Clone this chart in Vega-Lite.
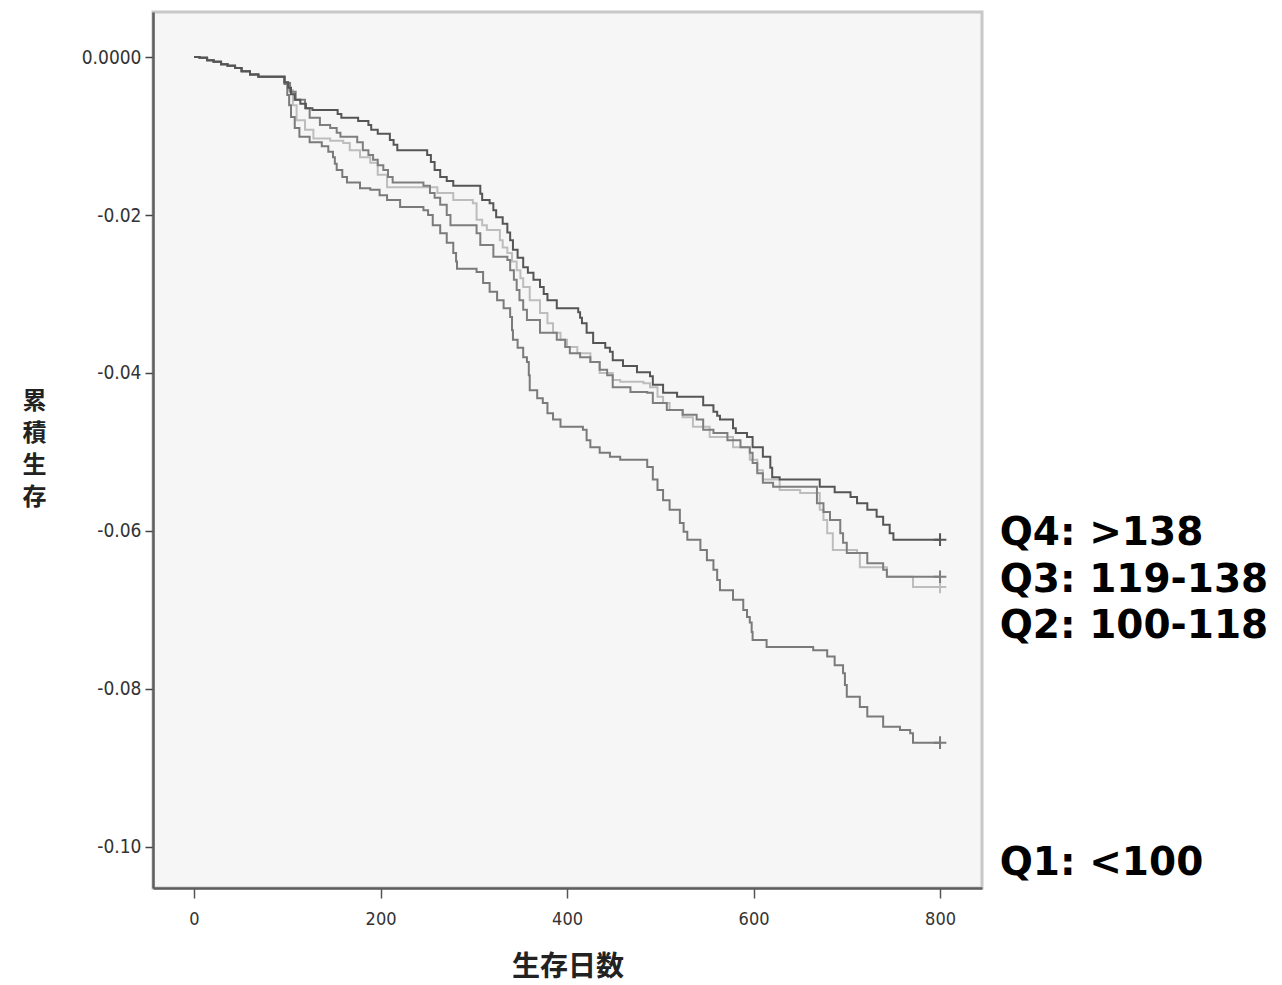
{
  "$schema": "https://vega.github.io/schema/vega-lite/v6.json",
  "width": 829,
  "height": 876,
  "autosize": {"type": "none"},
  "padding": {"left": 153, "top": 12, "right": 300, "bottom": 97},
  "background": "white",
  "config": {
    "view": {"fill": "#f6f6f6", "stroke": "#c8c8c8", "strokeWidth": 3},
    "font": "Liberation Sans"
  },
  "datasets": {
    "curves": [
      {"g": "Q2", "d": 0, "s": 0}, {"g": "Q2", "d": 6, "s": -0.0001}, {"g": "Q2", "d": 14, "s": -0.0004}, {"g": "Q2", "d": 21, "s": -0.0006}, {"g": "Q2", "d": 29, "s": -0.0009}, {"g": "Q2", "d": 36, "s": -0.0011}, {"g": "Q2", "d": 44, "s": -0.0014}, {"g": "Q2", "d": 51, "s": -0.0018}, {"g": "Q2", "d": 60, "s": -0.0022}, {"g": "Q2", "d": 69, "s": -0.0025},
      {"g": "Q2", "d": 97, "s": -0.0032}, {"g": "Q2", "d": 101, "s": -0.0042}, {"g": "Q2", "d": 106, "s": -0.0061}, {"g": "Q2", "d": 110, "s": -0.0080}, {"g": "Q2", "d": 119, "s": -0.0092}, {"g": "Q2", "d": 128, "s": -0.0103}, {"g": "Q2", "d": 146, "s": -0.0106}, {"g": "Q2", "d": 160, "s": -0.0109}, {"g": "Q2", "d": 167, "s": -0.0118}, {"g": "Q2", "d": 178, "s": -0.0127}, {"g": "Q2", "d": 189, "s": -0.0134}, {"g": "Q2", "d": 197, "s": -0.0149}, {"g": "Q2", "d": 207, "s": -0.0165}, {"g": "Q2", "d": 261, "s": -0.0172}, {"g": "Q2", "d": 278, "s": -0.0181}, {"g": "Q2", "d": 299, "s": -0.0185}, {"g": "Q2", "d": 303, "s": -0.0206}, {"g": "Q2", "d": 309, "s": -0.0213}, {"g": "Q2", "d": 314, "s": -0.0219}, {"g": "Q2", "d": 328, "s": -0.0232}, {"g": "Q2", "d": 331, "s": -0.0241}, {"g": "Q2", "d": 336, "s": -0.0248}, {"g": "Q2", "d": 341, "s": -0.0259}, {"g": "Q2", "d": 346, "s": -0.0270}, {"g": "Q2", "d": 350, "s": -0.0280}, {"g": "Q2", "d": 353, "s": -0.0291}, {"g": "Q2", "d": 360, "s": -0.0308}, {"g": "Q2", "d": 371, "s": -0.0324}, {"g": "Q2", "d": 379, "s": -0.0337}, {"g": "Q2", "d": 385, "s": -0.0349}, {"g": "Q2", "d": 393, "s": -0.0358}, {"g": "Q2", "d": 400, "s": -0.0367}, {"g": "Q2", "d": 411, "s": -0.0375}, {"g": "Q2", "d": 425, "s": -0.0386}, {"g": "Q2", "d": 435, "s": -0.0400}, {"g": "Q2", "d": 449, "s": -0.0409}, {"g": "Q2", "d": 457, "s": -0.0411}, {"g": "Q2", "d": 482, "s": -0.0413}, {"g": "Q2", "d": 489, "s": -0.0418}, {"g": "Q2", "d": 497, "s": -0.0430}, {"g": "Q2", "d": 503, "s": -0.0438}, {"g": "Q2", "d": 510, "s": -0.0447}, {"g": "Q2", "d": 524, "s": -0.0456}, {"g": "Q2", "d": 535, "s": -0.0468}, {"g": "Q2", "d": 553, "s": -0.0481}, {"g": "Q2", "d": 578, "s": -0.0494}, {"g": "Q2", "d": 596, "s": -0.0510}, {"g": "Q2", "d": 604, "s": -0.0523}, {"g": "Q2", "d": 610, "s": -0.0535}, {"g": "Q2", "d": 628, "s": -0.0548}, {"g": "Q2", "d": 650, "s": -0.0552}, {"g": "Q2", "d": 671, "s": -0.0573}, {"g": "Q2", "d": 675, "s": -0.0586}, {"g": "Q2", "d": 679, "s": -0.0603}, {"g": "Q2", "d": 685, "s": -0.0624}, {"g": "Q2", "d": 711, "s": -0.0628}, {"g": "Q2", "d": 714, "s": -0.0646}, {"g": "Q2", "d": 743, "s": -0.0658}, {"g": "Q2", "d": 771, "s": -0.0671}, {"g": "Q2", "d": 800, "s": -0.0671},

      {"g": "Q3", "d": 0, "s": 0}, {"g": "Q3", "d": 6, "s": -0.0001}, {"g": "Q3", "d": 14, "s": -0.0004}, {"g": "Q3", "d": 21, "s": -0.0006}, {"g": "Q3", "d": 29, "s": -0.0009}, {"g": "Q3", "d": 36, "s": -0.0011}, {"g": "Q3", "d": 44, "s": -0.0014}, {"g": "Q3", "d": 51, "s": -0.0018}, {"g": "Q3", "d": 60, "s": -0.0022}, {"g": "Q3", "d": 69, "s": -0.0025},
      {"g": "Q3", "d": 97, "s": -0.0033}, {"g": "Q3", "d": 103, "s": -0.0044}, {"g": "Q3", "d": 109, "s": -0.0054}, {"g": "Q3", "d": 119, "s": -0.0065}, {"g": "Q3", "d": 124, "s": -0.0077}, {"g": "Q3", "d": 135, "s": -0.0086}, {"g": "Q3", "d": 146, "s": -0.0090}, {"g": "Q3", "d": 153, "s": -0.0096}, {"g": "Q3", "d": 157, "s": -0.0101}, {"g": "Q3", "d": 175, "s": -0.0108}, {"g": "Q3", "d": 181, "s": -0.0118}, {"g": "Q3", "d": 187, "s": -0.0124}, {"g": "Q3", "d": 192, "s": -0.0130}, {"g": "Q3", "d": 197, "s": -0.0137}, {"g": "Q3", "d": 203, "s": -0.0143}, {"g": "Q3", "d": 208, "s": -0.0152}, {"g": "Q3", "d": 213, "s": -0.0159}, {"g": "Q3", "d": 246, "s": -0.0163}, {"g": "Q3", "d": 253, "s": -0.0172}, {"g": "Q3", "d": 258, "s": -0.0178}, {"g": "Q3", "d": 264, "s": -0.0187}, {"g": "Q3", "d": 271, "s": -0.0200}, {"g": "Q3", "d": 275, "s": -0.0213}, {"g": "Q3", "d": 303, "s": -0.0223}, {"g": "Q3", "d": 307, "s": -0.0238}, {"g": "Q3", "d": 321, "s": -0.0253}, {"g": "Q3", "d": 336, "s": -0.0257}, {"g": "Q3", "d": 339, "s": -0.0270}, {"g": "Q3", "d": 343, "s": -0.0282}, {"g": "Q3", "d": 346, "s": -0.0295}, {"g": "Q3", "d": 349, "s": -0.0308}, {"g": "Q3", "d": 353, "s": -0.0320}, {"g": "Q3", "d": 357, "s": -0.0333}, {"g": "Q3", "d": 371, "s": -0.0349}, {"g": "Q3", "d": 389, "s": -0.0358}, {"g": "Q3", "d": 398, "s": -0.0367}, {"g": "Q3", "d": 403, "s": -0.0375}, {"g": "Q3", "d": 414, "s": -0.0380}, {"g": "Q3", "d": 425, "s": -0.0386}, {"g": "Q3", "d": 435, "s": -0.0396}, {"g": "Q3", "d": 443, "s": -0.0403}, {"g": "Q3", "d": 449, "s": -0.0418}, {"g": "Q3", "d": 468, "s": -0.0424}, {"g": "Q3", "d": 486, "s": -0.0425}, {"g": "Q3", "d": 492, "s": -0.0438}, {"g": "Q3", "d": 507, "s": -0.0447}, {"g": "Q3", "d": 524, "s": -0.0453}, {"g": "Q3", "d": 539, "s": -0.0459}, {"g": "Q3", "d": 546, "s": -0.0472}, {"g": "Q3", "d": 557, "s": -0.0476}, {"g": "Q3", "d": 572, "s": -0.0485}, {"g": "Q3", "d": 586, "s": -0.0494}, {"g": "Q3", "d": 596, "s": -0.0501}, {"g": "Q3", "d": 599, "s": -0.0514}, {"g": "Q3", "d": 604, "s": -0.0527}, {"g": "Q3", "d": 610, "s": -0.0539}, {"g": "Q3", "d": 621, "s": -0.0544}, {"g": "Q3", "d": 668, "s": -0.0565}, {"g": "Q3", "d": 675, "s": -0.0576}, {"g": "Q3", "d": 682, "s": -0.0586}, {"g": "Q3", "d": 693, "s": -0.0603}, {"g": "Q3", "d": 696, "s": -0.0615}, {"g": "Q3", "d": 700, "s": -0.0628}, {"g": "Q3", "d": 722, "s": -0.0641}, {"g": "Q3", "d": 739, "s": -0.0649}, {"g": "Q3", "d": 743, "s": -0.0658}, {"g": "Q3", "d": 800, "s": -0.0658},

      {"g": "Q1", "d": 0, "s": 0}, {"g": "Q1", "d": 6, "s": -0.0001}, {"g": "Q1", "d": 14, "s": -0.0004}, {"g": "Q1", "d": 21, "s": -0.0006}, {"g": "Q1", "d": 29, "s": -0.0009}, {"g": "Q1", "d": 36, "s": -0.0011}, {"g": "Q1", "d": 44, "s": -0.0014}, {"g": "Q1", "d": 51, "s": -0.0018}, {"g": "Q1", "d": 60, "s": -0.0022}, {"g": "Q1", "d": 69, "s": -0.0025},
      {"g": "Q1", "d": 97, "s": -0.0034}, {"g": "Q1", "d": 100, "s": -0.0048}, {"g": "Q1", "d": 102, "s": -0.0061}, {"g": "Q1", "d": 104, "s": -0.0076}, {"g": "Q1", "d": 108, "s": -0.0090}, {"g": "Q1", "d": 113, "s": -0.0101}, {"g": "Q1", "d": 124, "s": -0.0108}, {"g": "Q1", "d": 137, "s": -0.0113}, {"g": "Q1", "d": 144, "s": -0.0120}, {"g": "Q1", "d": 149, "s": -0.0127}, {"g": "Q1", "d": 151, "s": -0.0135}, {"g": "Q1", "d": 153, "s": -0.0143}, {"g": "Q1", "d": 159, "s": -0.0152}, {"g": "Q1", "d": 164, "s": -0.0159}, {"g": "Q1", "d": 178, "s": -0.0166}, {"g": "Q1", "d": 189, "s": -0.0168}, {"g": "Q1", "d": 199, "s": -0.0175}, {"g": "Q1", "d": 207, "s": -0.0181}, {"g": "Q1", "d": 221, "s": -0.0190}, {"g": "Q1", "d": 246, "s": -0.0194}, {"g": "Q1", "d": 251, "s": -0.0200}, {"g": "Q1", "d": 256, "s": -0.0213}, {"g": "Q1", "d": 264, "s": -0.0223}, {"g": "Q1", "d": 271, "s": -0.0235}, {"g": "Q1", "d": 278, "s": -0.0248}, {"g": "Q1", "d": 281, "s": -0.0259}, {"g": "Q1", "d": 282, "s": -0.0268}, {"g": "Q1", "d": 303, "s": -0.0272}, {"g": "Q1", "d": 310, "s": -0.0286}, {"g": "Q1", "d": 317, "s": -0.0297}, {"g": "Q1", "d": 325, "s": -0.0308}, {"g": "Q1", "d": 332, "s": -0.0318}, {"g": "Q1", "d": 339, "s": -0.0329}, {"g": "Q1", "d": 341, "s": -0.0346}, {"g": "Q1", "d": 342, "s": -0.0358}, {"g": "Q1", "d": 347, "s": -0.0368}, {"g": "Q1", "d": 353, "s": -0.0380}, {"g": "Q1", "d": 357, "s": -0.0386}, {"g": "Q1", "d": 359, "s": -0.0403}, {"g": "Q1", "d": 360, "s": -0.0422}, {"g": "Q1", "d": 368, "s": -0.0432}, {"g": "Q1", "d": 374, "s": -0.0438}, {"g": "Q1", "d": 379, "s": -0.0451}, {"g": "Q1", "d": 385, "s": -0.0459}, {"g": "Q1", "d": 393, "s": -0.0468}, {"g": "Q1", "d": 417, "s": -0.0472}, {"g": "Q1", "d": 421, "s": -0.0485}, {"g": "Q1", "d": 425, "s": -0.0494}, {"g": "Q1", "d": 435, "s": -0.0501}, {"g": "Q1", "d": 446, "s": -0.0506}, {"g": "Q1", "d": 457, "s": -0.0510}, {"g": "Q1", "d": 486, "s": -0.0519}, {"g": "Q1", "d": 492, "s": -0.0535}, {"g": "Q1", "d": 497, "s": -0.0548}, {"g": "Q1", "d": 503, "s": -0.0561}, {"g": "Q1", "d": 510, "s": -0.0573}, {"g": "Q1", "d": 521, "s": -0.0590}, {"g": "Q1", "d": 525, "s": -0.0601}, {"g": "Q1", "d": 529, "s": -0.0611}, {"g": "Q1", "d": 543, "s": -0.0624}, {"g": "Q1", "d": 550, "s": -0.0637}, {"g": "Q1", "d": 557, "s": -0.0649}, {"g": "Q1", "d": 561, "s": -0.0662}, {"g": "Q1", "d": 564, "s": -0.0675}, {"g": "Q1", "d": 578, "s": -0.0687}, {"g": "Q1", "d": 589, "s": -0.0700}, {"g": "Q1", "d": 593, "s": -0.0709}, {"g": "Q1", "d": 596, "s": -0.0716}, {"g": "Q1", "d": 598, "s": -0.0728}, {"g": "Q1", "d": 599, "s": -0.0738}, {"g": "Q1", "d": 614, "s": -0.0747}, {"g": "Q1", "d": 664, "s": -0.0751}, {"g": "Q1", "d": 679, "s": -0.0759}, {"g": "Q1", "d": 687, "s": -0.0770}, {"g": "Q1", "d": 696, "s": -0.0780}, {"g": "Q1", "d": 698, "s": -0.0795}, {"g": "Q1", "d": 700, "s": -0.0810}, {"g": "Q1", "d": 714, "s": -0.0823}, {"g": "Q1", "d": 722, "s": -0.0835}, {"g": "Q1", "d": 739, "s": -0.0848}, {"g": "Q1", "d": 757, "s": -0.0852}, {"g": "Q1", "d": 768, "s": -0.0856}, {"g": "Q1", "d": 771, "s": -0.0868}, {"g": "Q1", "d": 800, "s": -0.0868},

      {"g": "Q4", "d": 0, "s": 0}, {"g": "Q4", "d": 6, "s": -0.0001}, {"g": "Q4", "d": 14, "s": -0.0004}, {"g": "Q4", "d": 21, "s": -0.0006}, {"g": "Q4", "d": 29, "s": -0.0009}, {"g": "Q4", "d": 36, "s": -0.0011}, {"g": "Q4", "d": 44, "s": -0.0014}, {"g": "Q4", "d": 51, "s": -0.0018}, {"g": "Q4", "d": 60, "s": -0.0022}, {"g": "Q4", "d": 69, "s": -0.0025},
      {"g": "Q4", "d": 97, "s": -0.0032}, {"g": "Q4", "d": 101, "s": -0.0039}, {"g": "Q4", "d": 104, "s": -0.0047}, {"g": "Q4", "d": 108, "s": -0.0054}, {"g": "Q4", "d": 114, "s": -0.0059}, {"g": "Q4", "d": 120, "s": -0.0065}, {"g": "Q4", "d": 127, "s": -0.0067}, {"g": "Q4", "d": 154, "s": -0.0072}, {"g": "Q4", "d": 158, "s": -0.0077}, {"g": "Q4", "d": 176, "s": -0.0081}, {"g": "Q4", "d": 187, "s": -0.0086}, {"g": "Q4", "d": 190, "s": -0.0092}, {"g": "Q4", "d": 197, "s": -0.0097}, {"g": "Q4", "d": 210, "s": -0.0105}, {"g": "Q4", "d": 214, "s": -0.0111}, {"g": "Q4", "d": 218, "s": -0.0118}, {"g": "Q4", "d": 250, "s": -0.0124}, {"g": "Q4", "d": 254, "s": -0.0133}, {"g": "Q4", "d": 258, "s": -0.0143}, {"g": "Q4", "d": 264, "s": -0.0152}, {"g": "Q4", "d": 271, "s": -0.0157}, {"g": "Q4", "d": 278, "s": -0.0163}, {"g": "Q4", "d": 307, "s": -0.0173}, {"g": "Q4", "d": 309, "s": -0.0181}, {"g": "Q4", "d": 317, "s": -0.0185}, {"g": "Q4", "d": 321, "s": -0.0194}, {"g": "Q4", "d": 324, "s": -0.0203}, {"g": "Q4", "d": 331, "s": -0.0211}, {"g": "Q4", "d": 336, "s": -0.0222}, {"g": "Q4", "d": 339, "s": -0.0232}, {"g": "Q4", "d": 342, "s": -0.0244}, {"g": "Q4", "d": 347, "s": -0.0254}, {"g": "Q4", "d": 353, "s": -0.0266}, {"g": "Q4", "d": 358, "s": -0.0273}, {"g": "Q4", "d": 364, "s": -0.0282}, {"g": "Q4", "d": 371, "s": -0.0291}, {"g": "Q4", "d": 375, "s": -0.0300}, {"g": "Q4", "d": 379, "s": -0.0308}, {"g": "Q4", "d": 389, "s": -0.0318}, {"g": "Q4", "d": 412, "s": -0.0323}, {"g": "Q4", "d": 414, "s": -0.0330}, {"g": "Q4", "d": 416, "s": -0.0337}, {"g": "Q4", "d": 421, "s": -0.0349}, {"g": "Q4", "d": 428, "s": -0.0362}, {"g": "Q4", "d": 441, "s": -0.0368}, {"g": "Q4", "d": 446, "s": -0.0373}, {"g": "Q4", "d": 449, "s": -0.0384}, {"g": "Q4", "d": 460, "s": -0.0391}, {"g": "Q4", "d": 475, "s": -0.0399}, {"g": "Q4", "d": 489, "s": -0.0404}, {"g": "Q4", "d": 492, "s": -0.0415}, {"g": "Q4", "d": 503, "s": -0.0425}, {"g": "Q4", "d": 518, "s": -0.0430}, {"g": "Q4", "d": 546, "s": -0.0441}, {"g": "Q4", "d": 557, "s": -0.0449}, {"g": "Q4", "d": 561, "s": -0.0454}, {"g": "Q4", "d": 564, "s": -0.0459}, {"g": "Q4", "d": 578, "s": -0.0470}, {"g": "Q4", "d": 581, "s": -0.0476}, {"g": "Q4", "d": 593, "s": -0.0481}, {"g": "Q4", "d": 599, "s": -0.0494}, {"g": "Q4", "d": 610, "s": -0.0506}, {"g": "Q4", "d": 618, "s": -0.0520}, {"g": "Q4", "d": 620, "s": -0.0532}, {"g": "Q4", "d": 628, "s": -0.0535}, {"g": "Q4", "d": 671, "s": -0.0544}, {"g": "Q4", "d": 687, "s": -0.0551}, {"g": "Q4", "d": 704, "s": -0.0557}, {"g": "Q4", "d": 711, "s": -0.0565}, {"g": "Q4", "d": 722, "s": -0.0573}, {"g": "Q4", "d": 732, "s": -0.0582}, {"g": "Q4", "d": 739, "s": -0.0592}, {"g": "Q4", "d": 746, "s": -0.0603}, {"g": "Q4", "d": 750, "s": -0.0611}, {"g": "Q4", "d": 800, "s": -0.0611}
    ],
    "censored": [
      {"g": "Q2", "d": 800, "s": -0.0671},
      {"g": "Q3", "d": 800, "s": -0.0658},
      {"g": "Q1", "d": 800, "s": -0.0868},
      {"g": "Q4", "d": 800, "s": -0.0611}
    ],
    "groupLabels": [
      {"t": "Q4: >138", "d": 864, "s": -0.0618},
      {"t": "Q3: 119-138", "d": 864, "s": -0.0677},
      {"t": "Q2: 100-118", "d": 864, "s": -0.0735},
      {"t": "Q1: <100", "d": 864, "s": -0.1035}
    ]
  },
  "encoding": {
    "x": {
      "field": "d",
      "type": "quantitative",
      "scale": {"domain": [-44, 845], "nice": false, "zero": false},
      "axis": {
        "values": [0, 200, 400, 600, 800],
        "grid": false,
        "domainColor": "#5e5e5e",
        "domainWidth": 2.5,
        "tickColor": "#555555",
        "tickWidth": 1.5,
        "tickSize": 10,
        "labelFont": "Liberation Sans Narrow, DejaVu Sans Condensed, Liberation Sans",
        "labelFontSize": 18,
        "labelColor": "#333333",
        "labelPadding": 12,
        "title": "生存日数",
        "titleFont": "Noto Sans CJK JP",
        "titleFontSize": 28,
        "titleFontWeight": "bold",
        "titleColor": "#222222",
        "titleY": 79,
        "titleBaseline": "middle"
      }
    },
    "y": {
      "field": "s",
      "type": "quantitative",
      "scale": {"domain": [-0.1052, 0.0057], "nice": false, "zero": false},
      "axis": {
        "values": [0, -0.02, -0.04, -0.06, -0.08, -0.1],
        "labelExpr": "datum.value == 0 ? '0.0000' : replace(format(datum.value, '.2f'), '−', '-')",
        "grid": false,
        "domainColor": "#5e5e5e",
        "domainWidth": 2.5,
        "tickColor": "#444444",
        "tickWidth": 1.5,
        "tickSize": 8,
        "labelFont": "Liberation Sans Narrow, DejaVu Sans Condensed, Liberation Sans",
        "labelFontSize": 19,
        "labelColor": "#333333",
        "labelPadding": 4,
        "title": ["累", "積", "生", "存"],
        "titleAngle": 0,
        "titleX": -119,
        "titleY": 377,
        "titleAlign": "center",
        "titleBaseline": "top",
        "titleFont": "Noto Sans CJK JP",
        "titleFontSize": 24,
        "titleFontWeight": "bold",
        "titleLineHeight": 32,
        "titleColor": "#222222"
      }
    }
  },
  "layer": [
    {
      "data": {"name": "curves"},
      "mark": {"type": "line", "interpolate": "step-after", "strokeWidth": 2},
      "encoding": {
        "color": {
          "field": "g",
          "type": "nominal",
          "scale": {"domain": ["Q2", "Q3", "Q1", "Q4"], "range": ["#bdbdbd", "#7e7e7e", "#7a7a7a", "#555555"]},
          "legend": null
        }
      }
    },
    {
      "data": {"name": "censored"},
      "mark": {"type": "point", "shape": "M-1,0L1,0M0,-1L0,1", "filled": false, "size": 160, "strokeWidth": 2, "opacity": 1},
      "encoding": {
        "color": {
          "field": "g",
          "type": "nominal",
          "scale": {"domain": ["Q2", "Q3", "Q1", "Q4"], "range": ["#bdbdbd", "#7e7e7e", "#7a7a7a", "#555555"]},
          "legend": null
        }
      }
    },
    {
      "mark": {"type": "rule", "color": "#6a6a6a", "strokeWidth": 2.5},
      "encoding": {"x": {"datum": 845}, "y": null}
    },
    {
      "data": {"name": "groupLabels"},
      "mark": {"type": "text", "align": "left", "baseline": "alphabetic", "font": "DejaVu Sans", "fontSize": 39, "fontWeight": "bold", "color": "#000000"},
      "encoding": {"text": {"field": "t"}}
    }
  ]
}
